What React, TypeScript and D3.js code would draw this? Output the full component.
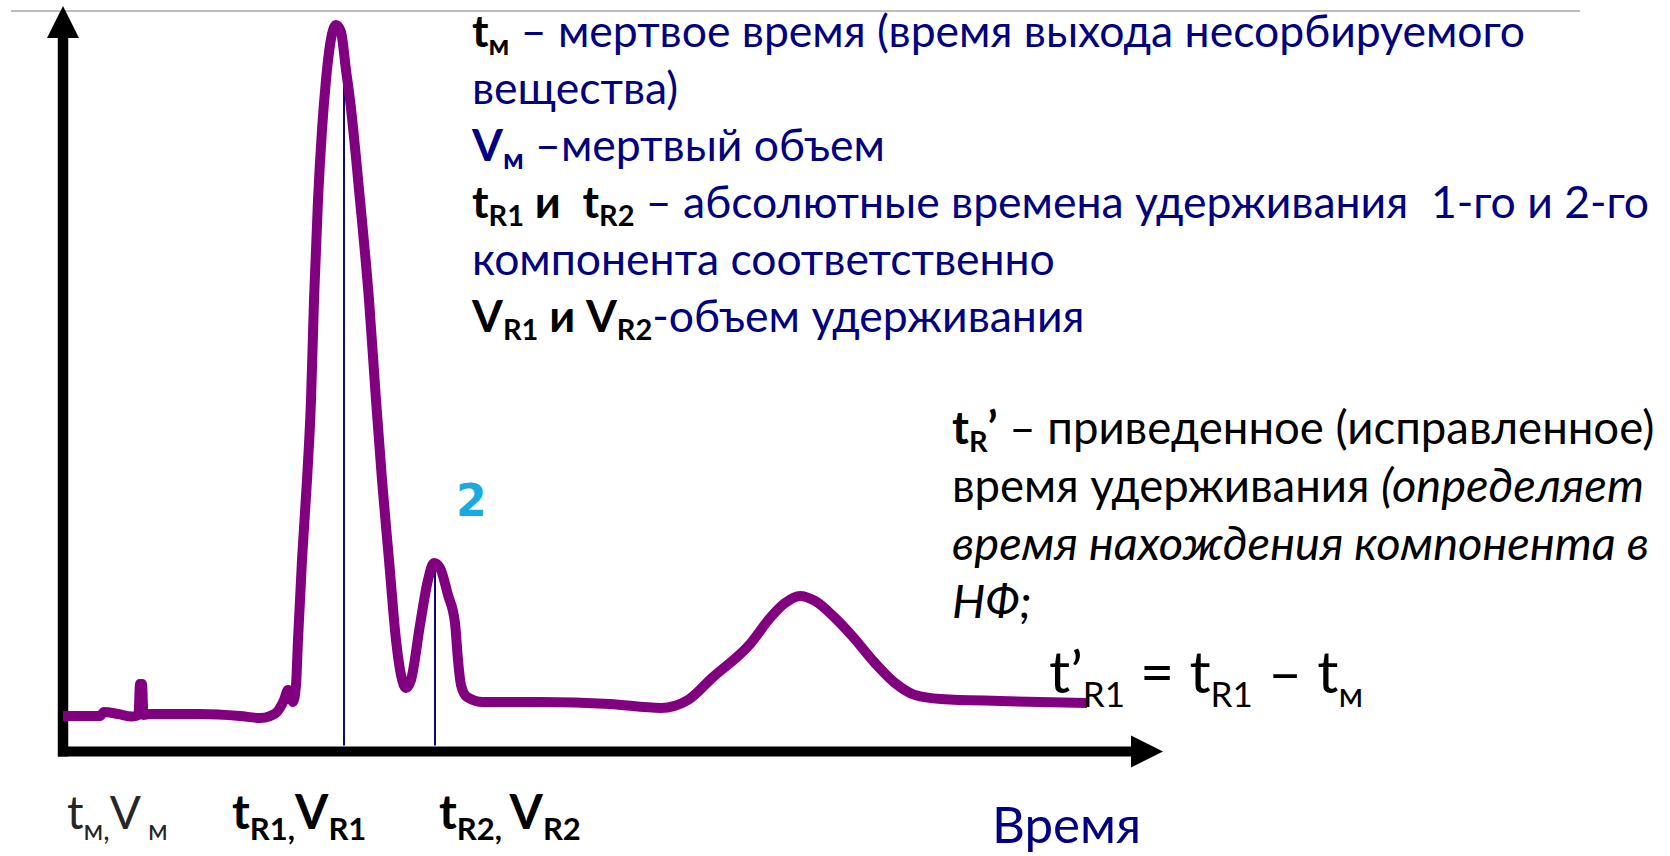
import React from "react";
import * as d3 from "d3";

// Chromatogram trace: elution time (min) and detector signal (% of full scale)
const elutionTime = [
  0, 0.74, 0.82, 1.1, 1.38, 1.51, 1.54, 1.58, 1.61, 1.74, 2.74, 3.54, 3.94, 4.14, 4.28, 4.42, 4.5,
  4.56, 4.6, 4.66, 4.7, 4.78, 4.88, 4.96, 5.02, 5.1, 5.18, 5.26, 5.34, 5.46, 5.56, 5.66, 5.74,
  5.94, 6.12, 6.26, 6.38, 6.52, 6.66, 6.76, 6.86, 6.96, 7.14, 7.3, 7.42, 7.54, 7.7, 7.84, 7.9,
  7.96, 8.08, 8.4, 9.54, 10.94, 11.96, 12.5, 12.98, 13.76, 14.14, 14.44, 14.74, 15.04, 15.44,
  15.8, 16.24, 16.64, 17.04, 17.56, 18.74, 20.48,
];
const detectorSignal = [
  4.76, 4.76, 5.3, 5.03, 4.7, 4.9, 9.05, 9.05, 4.9, 5.03, 5.03, 4.76, 4.49, 4.76, 5.3, 6.91, 8.25,
  7.44, 6.64, 8.92, 14.96, 25.69, 36.42, 47.15, 60.56, 73.98, 83.37, 90.07, 94.77, 97.45, 96.51,
  91.41, 87.39, 73.98, 60.56, 47.15, 36.42, 25.69, 14.96, 10.26, 8.52, 9.59, 16.97, 23.0, 25.28,
  24.61, 20.99, 17.24, 12.27, 8.92, 7.31, 6.64, 6.64, 6.37, 5.84, 6.91, 9.86, 14.55, 17.91, 19.92,
  20.86, 20.19, 17.91, 15.36, 11.87, 9.19, 7.58, 7.04, 6.77, 6.51,
];

// Retention markers for components 1 and 2
const retentionTimes = [5.62, 7.44];
const retentionHeights = [96.2, 25.0];

const timeDomain = [0, 22];
const signalDomain = [0, 100];

type Seg = { t: string; b?: boolean; i?: boolean; c?: string; sub?: boolean };

const NAVY = "#000080";
const BLACK = "#000000";
const PURPLE = "#800080";

const definitionLines: Seg[][] = [
  [
    { t: "t", b: true, c: BLACK },
    { t: "м", b: true, c: BLACK, sub: true },
    { t: " – мертвое время (время выхода несорбируемого", c: NAVY },
  ],
  [{ t: "вещества)", c: NAVY }],
  [
    { t: "V", b: true, c: NAVY },
    { t: "м", b: true, c: NAVY, sub: true },
    { t: " –мертвый объем", c: NAVY },
  ],
  [
    { t: "t", b: true, c: BLACK },
    { t: "R1", b: true, c: BLACK, sub: true },
    { t: " и  t", b: true, c: BLACK },
    { t: "R2", b: true, c: BLACK, sub: true },
    { t: " – абсолютные времена удерживания  1-го и 2-го", c: NAVY },
  ],
  [{ t: "компонента соответственно", c: NAVY }],
  [
    { t: "V", b: true, c: BLACK },
    { t: "R1", b: true, c: BLACK, sub: true },
    { t: " и V", b: true, c: BLACK },
    { t: "R2", b: true, c: BLACK, sub: true },
    { t: "-объем удерживания", c: NAVY },
  ],
];

const adjustedLines: Seg[][] = [
  [
    { t: "t", b: true, c: BLACK },
    { t: "R", b: true, c: BLACK, sub: true },
    { t: "’", b: true, c: BLACK },
    { t: " – приведенное (исправленное)", c: BLACK },
  ],
  [
    { t: "время удерживания ", c: BLACK },
    { t: "(определяет", i: true, c: BLACK },
  ],
  [{ t: "время нахождения компонента в", i: true, c: BLACK }],
  [{ t: "НФ;", i: true, c: BLACK }],
];

const formula: Seg[] = [
  { t: "t’", c: BLACK },
  { t: "R1", c: BLACK, sub: true },
  { t: " = t", c: BLACK },
  { t: "R1", c: BLACK, sub: true },
  { t: " – t", c: BLACK },
  { t: "м", c: BLACK, sub: true },
];

const axisLabels: { x: number; segs: Seg[]; bold: boolean }[] = [
  {
    x: 67,
    bold: false,
    segs: [
      { t: "t", c: "#262626" },
      { t: "м,", c: "#262626", sub: true },
      { t: "V", c: "#262626" },
      { t: " м", c: "#262626", sub: true },
    ],
  },
  {
    x: 232,
    bold: true,
    segs: [
      { t: "t", b: true, c: BLACK },
      { t: "R1,", b: true, c: BLACK, sub: true },
      { t: "V", b: true, c: BLACK },
      { t: "R1", b: true, c: BLACK, sub: true },
    ],
  },
  {
    x: 439,
    bold: true,
    segs: [
      { t: "t", b: true, c: BLACK },
      { t: "R2, ", b: true, c: BLACK, sub: true },
      { t: "V", b: true, c: BLACK },
      { t: "R2", b: true, c: BLACK, sub: true },
    ],
  },
];

function RichText({
  x,
  y,
  segs,
  size,
  subSize,
  subShift,
  italicSize,
  family = "Lato",
}: {
  x: number;
  y: number;
  segs: Seg[];
  size: number;
  subSize: number;
  subShift: number;
  italicSize?: number;
  family?: string;
}) {
  let shift = 0;
  return (
    <text x={x} y={y} fontFamily={family} style={{ whiteSpace: "pre" }}>
      {segs.map((s, k) => {
        const target = s.sub ? subShift : 0;
        const dy = target - shift;
        shift = target;
        const fs = s.sub ? subSize : s.i && italicSize ? italicSize : size;
        return (
          <tspan
            key={k}
            dy={dy}
            fontSize={fs}
            fontWeight={s.b ? 700 : 400}
            fontStyle={s.i ? "italic" : "normal"}
            fill={s.c}
          >
            {s.t}
          </tspan>
        );
      })}
    </text>
  );
}

export default function App() {
  const W = 1670;
  const H = 856;
  const x = d3.scaleLinear().domain(timeDomain).range([63, 1163]);
  const y = d3.scaleLinear().domain(signalDomain).range([751.5, 6]);

  const line = d3
    .line<number>()
    .x((_, i) => x(elutionTime[i]))
    .y((d) => y(d))
    .curve(d3.curveMonotoneX);

  const x0 = x(0);
  const y0 = y(0);
  const xEnd = x(timeDomain[1]);
  const yTop = y(signalDomain[1]);
  const head = 31;
  const half = 16;

  return (
    <svg
      width={W}
      height={H}
      style={{ position: "fixed", left: 0, top: 0, background: "#ffffff" }}
    >
      <rect width={W} height={H} fill="#ffffff" />
      {/* header rule */}
      <line x1={11} x2={1580} y1={11} y2={11} stroke="#a6a6a6" strokeWidth={1.5} />

      {/* axes with arrowheads */}
      <line x1={x0} x2={x0} y1={y0 + 5} y2={yTop + head} stroke="#000" strokeWidth={10.5} />
      <path
        d={`M${x0},${yTop} L${x0 - half},${yTop + head + 1} L${x0 + half},${yTop + head + 1} Z`}
        fill="#000"
      />
      <line x1={x0 - 5} x2={xEnd - head} y1={y0} y2={y0} stroke="#000" strokeWidth={10} />
      <path
        d={`M${xEnd},${y0} L${xEnd - head - 1},${y0 - half} L${xEnd - head - 1},${y0 + half} Z`}
        fill="#000"
      />

      {/* retention time markers */}
      {retentionTimes.map((t, k) => (
        <line
          key={k}
          x1={x(t)}
          x2={x(t)}
          y1={y(retentionHeights[k])}
          y2={y0 - 6}
          stroke="#0a0a6e"
          strokeWidth={2}
        />
      ))}

      {/* chromatogram */}
      <path
        d={line(detectorSignal) || ""}
        fill="none"
        stroke={PURPLE}
        strokeWidth={10}
        strokeLinejoin="round"
        strokeLinecap="butt"
      />

      {/* peak number */}
      <text x={456} y={516} fontFamily="DejaVu Sans" fontWeight={700} fontSize={44} fill="#1BA9E1">
        2
      </text>

      {/* definitions */}
      {definitionLines.map((segs, k) => (
        <RichText key={k} x={472} y={47 + k * 57} segs={segs} size={44.5} subSize={29} subShift={8} />
      ))}
      {adjustedLines.map((segs, k) => (
        <RichText
          key={k}
          x={952}
          y={444 + k * 58}
          segs={segs}
          size={45.5}
          italicSize={47}
          subSize={29}
          subShift={8}
        />
      ))}
      <RichText x={1049} y={693} segs={formula} size={59} subSize={35} subShift={14} />

      {/* axis captions */}
      {axisLabels.map((l, k) => (
        <RichText
          key={k}
          x={l.x}
          y={829}
          segs={l.segs}
          size={l.bold ? 48 : 46}
          subSize={l.bold ? 31 : 28}
          subShift={11}
        />
      ))}
      <text x={992} y={843} fontFamily="Lato" fontSize={51} fill={NAVY}>
        Время
      </text>
    </svg>
  );
}
